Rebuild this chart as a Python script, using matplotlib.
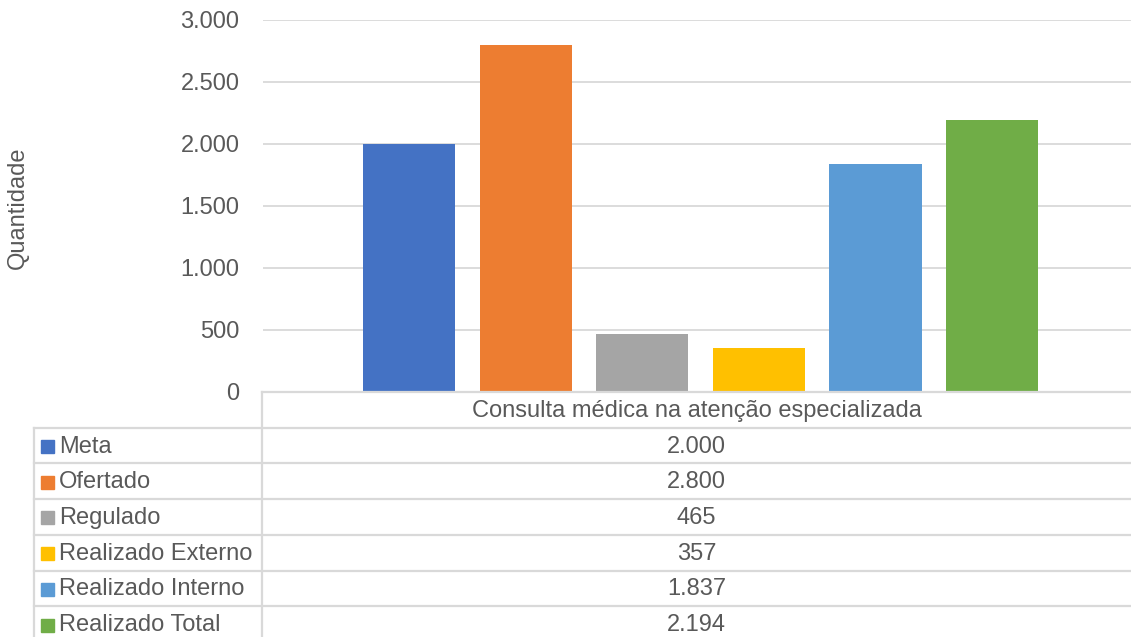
import matplotlib.pyplot as plt
from matplotlib.lines import Line2D
from matplotlib.patches import Rectangle

# Data #
categoria = "Consulta médica na atenção especializada"
series = ["Meta", "Ofertado", "Regulado", "Realizado Externo", "Realizado Interno", "Realizado Total"]
valores = [2000, 2800, 465, 357, 1837, 2194]
cores = ["#4472C4", "#ED7D31", "#A5A5A5", "#FFC000", "#5B9BD5", "#70AD47"]
yticks = [0, 500, 1000, 1500, 2000, 2500, 3000]
# -------- #

plt.rcParams['font.family'] = ['Liberation Sans', 'DejaVu Sans']
txt = "#595959"
grid = "#D9D9D9"
W, H = 1131, 637
fs = 17

def fx(px):
    return px / W

def fy(py):
    return 1 - py / H

def fmt(v):
    return f"{v:,}".replace(",", ".")

fig = plt.figure(figsize=(W / 100, H / 100), dpi=100)
ax = fig.add_axes([fx(263), fy(392), fx(1131) - fx(263), fy(20) - fy(392)])

x = list(range(len(series)))
ax.bar(x, valores, width=0.79, color=cores, zorder=2)

ax.set_ylim(0, 3000)
ax.set_xlim(-1.252, 6.19)
ax.set_yticks(yticks)
ax.set_yticklabels([fmt(v) for v in yticks], fontsize=fs, color=txt)
ax.tick_params(axis='y', length=0, pad=17)
ax.set_xticks([])
ax.grid(axis='y', color=grid, lw=1.3, zorder=0)
for s in ax.spines.values():
    s.set_visible(False)

fig.text(fx(18), fy(208), "Quantidade", rotation=90, ha='center', va='center',
         fontsize=fs, color=txt)

# Data table #
lw = 1.6
top = 392
row_h = 35.7
n = len(series)
# horizontal lines
fig.add_artist(Line2D([fx(262), 1], [fy(top), fy(top)], color=grid, lw=lw))
for i in range(n):
    yy = top + row_h * (i + 1)
    fig.add_artist(Line2D([fx(34), 1], [fy(yy), fy(yy)], color=grid, lw=lw))
# vertical lines
fig.add_artist(Line2D([fx(262), fx(262)], [fy(top), 0], color=grid, lw=lw))
fig.add_artist(Line2D([fx(34), fx(34)], [fy(top + row_h), 0], color=grid, lw=lw))

colc = (262 + 1131) / 2
fig.text(fx(colc), fy(top + row_h / 2 + 1), categoria, ha='center', va='center',
         fontsize=fs, color=txt)
for i, (nome, v, c) in enumerate(zip(series, valores, cores)):
    yc = top + row_h * (i + 1.5) + 1
    fig.add_artist(Rectangle((fx(41), fy(yc + 6.5)), fx(13), fy(0) - fy(13),
                             transform=fig.transFigure, color=c))
    fig.text(fx(59), fy(yc), nome, ha='left', va='center', fontsize=fs, color=txt)
    fig.text(fx(colc), fy(yc), fmt(v), ha='center', va='center', fontsize=fs, color=txt)

fig.savefig("out.png", dpi=100)
